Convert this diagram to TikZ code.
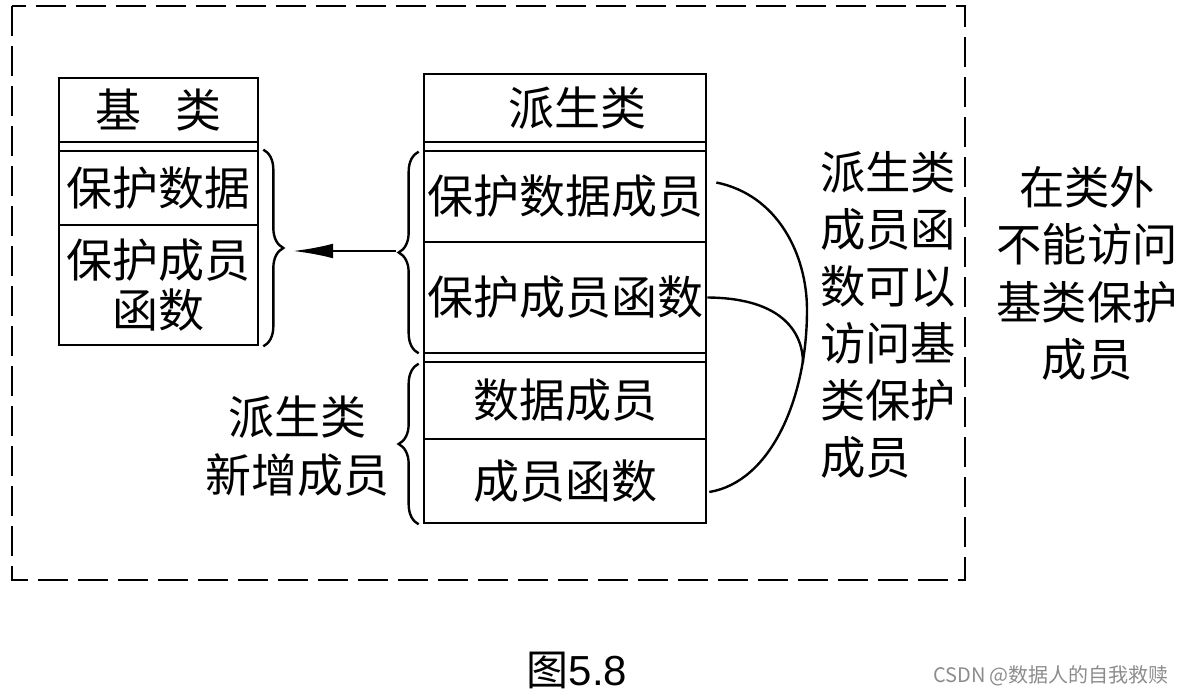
\documentclass[tikz,border=0pt]{standalone}
\usepackage{fontspec}
\setmainfont{Noto Sans CJK SC}
\newfontfamily\latinsans{Liberation Sans}
\usetikzlibrary{decorations.pathreplacing,arrows.meta,calc}
\begin{document}
\begin{tikzpicture}[x=0.75pt,y=-0.75pt,
  cell/.style={draw, line width=2pt, rectangle, inner sep=0pt, align=center,
    font=\fontsize{34.5}{43}\selectfont},
  txt/.style={inner sep=0pt, font=\fontsize{34.5}{43}\selectfont},
  bracedeco/.style={draw, line width=1.8pt, decorate,
    decoration={brace, amplitude=15pt}},
  link/.style={draw, line width=1.8pt},
  arrowline/.style={draw, line width=1.8pt, -{Latex[length=30pt,width=11pt]}},
  frame/.style={draw, line width=2.2pt, dash pattern=on 22.5pt off 7.5pt}
]
\useasboundingbox (0,0) rectangle (1182,696);
% dashed frame
\draw[frame] (12,6) rectangle (965,580);
% base class table
\node[cell, minimum width=149.25pt, minimum height=48pt] (bh) at (158.5,110) {基\hspace{0.75em}类};
\node[cell, minimum width=149.25pt, minimum height=6.75pt] (bg) at (158.5,146.5) {};
\node[cell, minimum width=149.25pt, minimum height=55.5pt] (b1) at (158.5,188) {保护数据};
\node[cell, minimum width=149.25pt, minimum height=90pt, font=\fontsize{34.5}{37.5}\selectfont] (b2) at (158.5,285) {保护成员\\函数};
% derived class table
\node[cell, minimum width=211.5pt, minimum height=51pt] (dh) at (565,108) {\hspace*{18pt}派生类};
\node[cell, minimum width=211.5pt, minimum height=6.75pt] (dg1) at (565,146.5) {};
\node[cell, minimum width=211.5pt, minimum height=68.25pt] (d1) at (565,196.5) {保护数据成员};
\node[cell, minimum width=211.5pt, minimum height=83.25pt] (d2) at (565,297.5) {保护成员函数};
\node[cell, minimum width=211.5pt, minimum height=6.75pt] (dg2) at (565,357.5) {};
\node[cell, minimum width=211.5pt, minimum height=57.75pt] (d3) at (565,400.5) {数据成员};
\node[cell, minimum width=211.5pt, minimum height=63pt] (d4) at (565,481) {成员函数};
% braces
\draw[bracedeco] ($(b1.north east)+(4,0)$) -- ($(b2.south east)+(4,0)$);
\draw[bracedeco] ($(d2.south west)+(-4,-1)$) -- ($(d1.north west)+(-4,2)$);
\draw[bracedeco] ($(d4.south west)+(-4,0)$) -- ($(d3.north west)+(-4,3)$);
% arrow
\coordinate (dtip) at (396,251);
\coordinate (btip) at (293,251);
\draw[arrowline] (dtip) -- (btip);
% curves
\coordinate (c1s) at ($(d1.east)+(9,-14)$);
\coordinate (c1e) at ($(d4.east)+(2,11)$);
\coordinate (c2e) at (803,363);
\draw[link] (c1s) .. controls (778,195) and (807,255) .. (807,310)
  .. controls (807,400) and (770,482) .. (c1e);
\draw[link] (d2.east) .. controls (785,298) and (803,335) .. (c2e);
% texts
\node[txt, align=center, font=\fontsize{34.5}{43.5}\selectfont] (newm) at (297,446) {派生类\\新增成员};
\node[txt, align=left, anchor=west, font=\fontsize{34}{42.75}\selectfont] (acc) at (820,315) {派生类\\成员函\\数可以\\访问基\\类保护\\成员};
\node[txt, align=center, font=\fontsize{34}{43}\selectfont] (outs) at (1087,273.5) {在类外\\不能访问\\基类保护\\成员};
\node[txt, font=\fontsize{31.5}{31.5}\selectfont] (cap) at (577,670) {图{\latinsans 5.8}};
\node[txt, text=black!45, font=\fontsize{15}{15}\selectfont] (wm) at (1051,676) {CSDN @数据人的自我救赎};
\end{tikzpicture}
\end{document}
